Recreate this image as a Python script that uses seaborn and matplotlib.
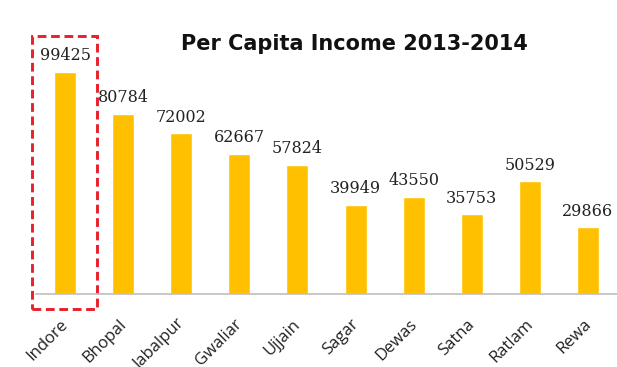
import matplotlib
matplotlib.use("Agg")
import matplotlib.pyplot as plt
import seaborn as sns
import pandas as pd
from matplotlib.patches import Rectangle
from matplotlib.transforms import ScaledTranslation

cities = ["Indore", "Bhopal", "Jabalpur", "Gwaliar", "Ujjain", "Sagar", "Dewas", "Satna", "Ratlam", "Rewa"]
income = [99425, 80784, 72002, 62667, 57824, 39949, 43550, 35753, 50529, 29866]
title = "Per Capita Income 2013-2014"

df = pd.DataFrame({"city": cities, "income": income})

sns.set_theme(style="white")
fig = plt.figure(figsize=(6.17, 3.67), dpi=100)
ax = fig.add_axes([36 / 617, 1 - 294 / 367, (617 - 36) / 617, 284 / 367])

sns.barplot(data=df, x="city", y="income", color="#FFC000", saturation=1, width=0.38, ax=ax)

ax.set_xlim(-0.5, 9.5)
ax.set_ylim(0, 99425 * 284 / 222)
for s in ["top", "right", "left"]:
    ax.spines[s].set_visible(False)
ax.spines["bottom"].set_color("#bfbfbf")
ax.spines["bottom"].set_linewidth(1.2)
ax.set_yticks([])
ax.set_xlabel("")
ax.set_ylabel("")
ax.tick_params(axis="x", length=0, pad=16)
ax.set_xticks(range(len(cities)))
ax.set_xticklabels(cities, rotation=45, ha="right", rotation_mode="anchor",
                   fontsize=12, color="#222222", family="Open Sans")
shift = ScaledTranslation(-5 / 100, 0, fig.dpi_scale_trans)
for lab in ax.get_xticklabels():
    lab.set_transform(lab.get_transform() + shift)

for i, v in enumerate(income):
    ax.annotate(f"{v}", (i, v), xytext=(0, 5.5), textcoords="offset points",
                ha="center", va="bottom", fontsize=11.5, family="DejaVu Serif", color="#222222")

fig.text(354 / 617, 1 - 44 / 367, title, ha="center", va="center",
         fontsize=15, fontweight="bold", family="DejaVu Sans", color="#111111")

rect = Rectangle((-0.565, -6600), 1.12, 122300, fill=False, edgecolor="#e8202a",
                 linestyle=(0, (3, 1.6)), linewidth=2.1, clip_on=False)
ax.add_patch(rect)

fig.savefig("out.png", dpi=100)
